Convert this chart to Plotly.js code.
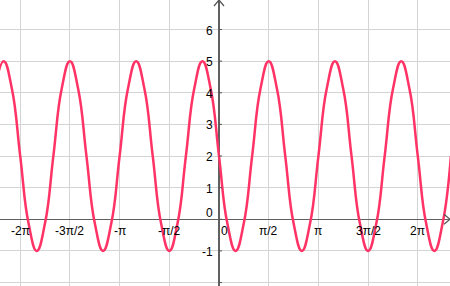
<!DOCTYPE html>
<html>
<head>
<meta charset="utf-8">
<script src="https://cdn.plot.ly/plotly-3.0.1.min.js"></script>
<style>html,body{margin:0;padding:0;background:#fff}#chart{width:450px;height:286px}</style>
</head>
<body>
<div id="chart"></div>
<script>
// Curve samples (x in radians, y value)
const curveX = [-7.069,-6.807,-6.545,-6.283,-6.021,-5.760,-5.498,-5.236,-4.974,-4.712,
  -4.451,-4.189,-3.927,-3.665,-3.403,-3.142,-2.880,-2.618,-2.356,-2.094,
  -1.833,-1.571,-1.309,-1.047,-0.785,-0.524,-0.262,0,0.262,0.524,
  0.785,1.047,1.309,1.571,1.833,2.094,2.356,2.618,2.880,3.142,
  3.403,3.665,3.927,4.189,4.451,4.712,4.974,5.236,5.498,5.760,
  6.021,6.283,6.545,6.807,7.069,7.330];
const curveY = [4.12,5,4.12,2,-0.12,-1,-0.12,2,4.12,5,
  4.12,2,-0.12,-1,-0.12,2,4.12,5,4.12,2,
  -0.12,-1,-0.12,2,4.12,5,4.12,2,-0.12,-1,
  -0.12,2,4.12,5,4.12,2,-0.12,-1,-0.12,2,
  4.12,5,4.12,2,-0.12,-1,-0.12,2,4.12,5,
  4.12,2,-0.12,-1,-0.12,2];

// Tick positions and labels
const xTickVals = [-6.2832,-4.7124,-3.1416,-1.5708,0,1.5708,3.1416,4.7124,6.2832];
const xTickText = ['-2π','-3π/2','-π','-π/2','0','π/2','π','3π/2','2π'];
const yTickVals = [-2,-1,0,1,2,3,4,5,6];
const yTickText = ['', '-1','0','1','2','3','4','5','6'];

const xRange = [-6.922, 7.301];
const yRange = [-2.109, 6.933];

const font = {family: 'Liberation Sans, Arial, sans-serif', size: 12, color: '#000'};
const annotations = [];
xTickVals.forEach((v, i) => {
  if (!xTickText[i]) return;
  const isZero = v === 0;
  annotations.push({x: v, y: 0, xref: 'x', yref: 'y', text: xTickText[i], showarrow: false,
    xanchor: isZero ? 'left' : 'center', yanchor: 'top', xshift: isZero ? 0 : 0, yshift: -3,
    font: font, bgcolor: 'rgba(255,255,255,0)'});
});
yTickVals.forEach((v, i) => {
  if (!yTickText[i]) return;
  annotations.push({x: 0, y: v, xref: 'x', yref: 'y', text: yTickText[i], showarrow: false,
    xanchor: 'right', yanchor: 'middle', xshift: -4, yshift: v === 0 ? 6 : -1, font: font});
});

const shapes = [
  {type: 'path', xref: 'x', yref: 'y', xsizemode: 'pixel', ysizemode: 'pixel',
   xanchor: xRange[1], yanchor: 0, path: 'M -6,-5 L 0,0 L -6,5',
   line: {color: '#555', width: 1.2}},
  {type: 'path', xref: 'x', yref: 'y', xsizemode: 'pixel', ysizemode: 'pixel',
   xanchor: 0, yanchor: yRange[1], path: 'M -5,-6 L 0,0 L 5,-6',
   line: {color: '#555', width: 1.2}}
];
yTickVals.forEach(v => {
  shapes.push({type: 'path', xref: 'x', yref: 'y', xsizemode: 'pixel', ysizemode: 'pixel',
    xanchor: 0, yanchor: v, path: 'M 0,0 L 3,0', line: {color: '#555', width: 1}});
});

const data = [{
  x: curveX, y: curveY, type: 'scatter', mode: 'lines',
  line: {color: '#ff3366', width: 2.5, shape: 'spline', smoothing: 1.3},
  hoverinfo: 'skip'
}];

const layout = {
  width: 450, height: 286,
  margin: {l: 0, r: 0, t: 0, b: 0},
  paper_bgcolor: '#fff', plot_bgcolor: '#fff',
  showlegend: false,
  xaxis: {range: xRange, tickvals: xTickVals, showticklabels: false, ticks: '',
    showgrid: true, gridcolor: '#d4d4d4', gridwidth: 1,
    zeroline: true, zerolinecolor: '#606060', zerolinewidth: 1.5, showline: false, fixedrange: true},
  yaxis: {range: yRange, tickvals: yTickVals, showticklabels: false, ticks: '',
    showgrid: true, gridcolor: '#d4d4d4', gridwidth: 1,
    zeroline: true, zerolinecolor: '#606060', zerolinewidth: 1.5, showline: false, fixedrange: true},
  annotations: annotations,
  shapes: shapes
};

Plotly.newPlot('chart', data, layout, {displayModeBar: false, staticPlot: true});
</script>
</body>
</html>
